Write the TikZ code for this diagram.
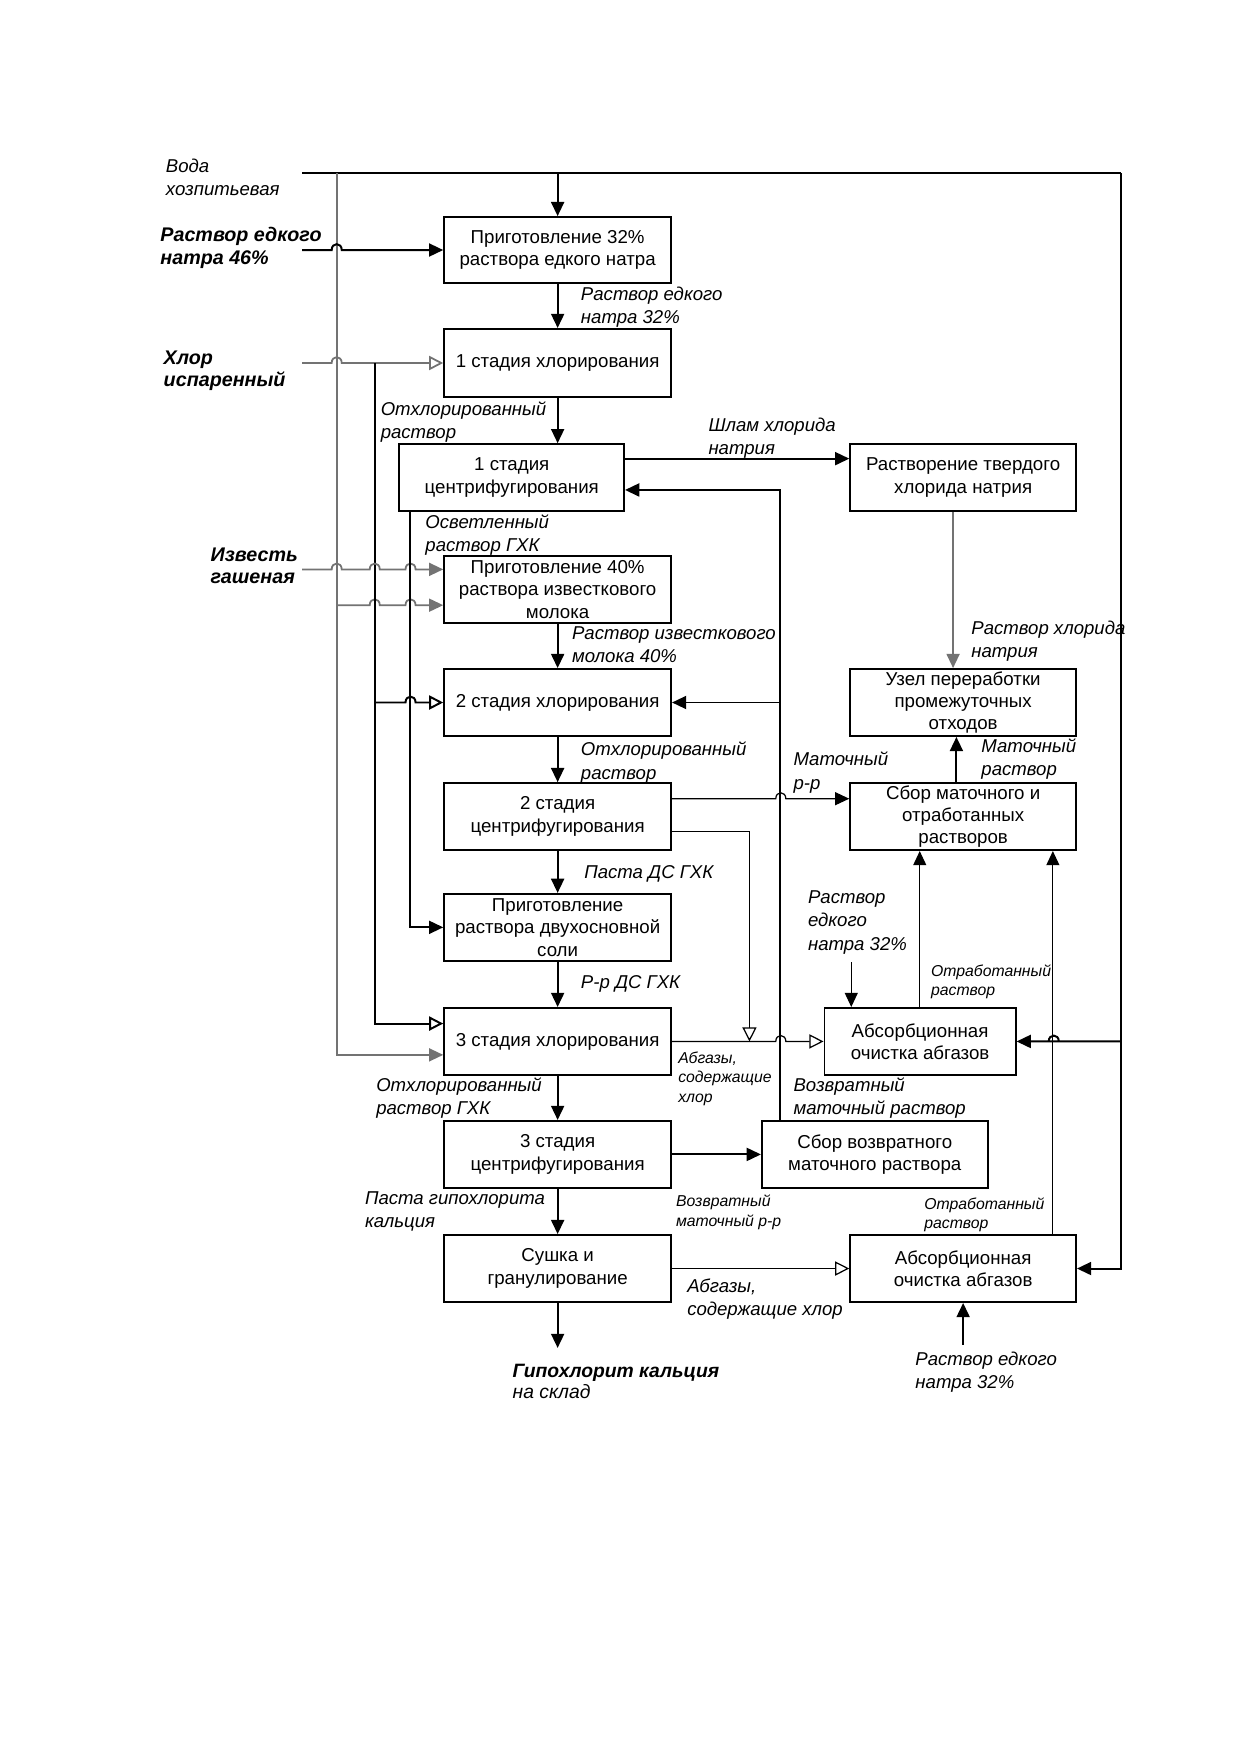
\documentclass[tikz,border=0pt]{standalone}
\usepackage{fontspec}
\setmainfont{Liberation Sans}
\usetikzlibrary{arrows.meta,calc}
\definecolor{lg}{gray}{0.45}
\newcommand\jp[2]{-- ({#1-4.5},#2) .. controls ({#1-4.5},{#2-7}) and ({#1+4.5},{#2-7}) .. ({#1+4.5},#2)}
\newcommand\pbox[6]{\node[box, minimum width={(#4-#2)*0.18936mm}, minimum height={(#5-#3)*0.18936mm}] (#1) at ({(#2+#4)/2},{(#3+#5)/2}) {#6};}
\tikzset{
 box/.style={draw, line width=0.85pt, inner sep=0pt, align=center, font=\fontsize{9}{10.8}\selectfont},
 lbl/.style={anchor=north west, inner sep=0pt, align=left, font=\fontsize{8.95}{11.2}\selectfont\itshape},
 blbl/.style={lbl, font=\fontsize{9.5}{10.7}\selectfont\bfseries\itshape},
 slbl/.style={lbl, font=\fontsize{7.6}{9.3}\selectfont\itshape},
 ln/.style={line width=0.95pt},
 tl/.style={line width=0.6pt},
 gl/.style={line width=0.85pt, draw=lg},
 fa/.style={-{Triangle[length=2.4mm,width=2.2mm]}},
 oa/.style={-{Triangle[open,length=2.4mm,width=2.4mm]}},
}
\begin{document}
\begin{tikzpicture}[x=0.18936mm, y=-0.18936mm]
\path[use as bounding box, fill=white] (0,0) rectangle (1109,1568);

% process boxes
\pbox{B1}{397}{194}{600}{253}{Приготовление 32\%\\раствора едкого натра}
\pbox{B2}{397}{294}{600}{355}{1 стадия хлорирования}
\pbox{B3}{357}{397}{558}{457}{1 стадия\\центрифугирования}
\pbox{B4}{397}{497}{600}{557}{Приготовление 40\%\\раствора известкового\\молока}
\pbox{B5}{397}{598}{600}{658}{2 стадия хлорирования}
\pbox{B6}{397}{700}{600}{760}{2 стадия\\центрифугирования}
\pbox{B7}{397}{799}{600}{859}{Приготовление\\раствора двухосновной\\соли}
\pbox{B8}{397}{901}{600}{961}{3 стадия хлорирования}
\pbox{B9}{397}{1002}{600}{1062}{3 стадия\\центрифугирования}
\pbox{B10}{397}{1104}{600}{1164}{Сушка и\\гранулирование}
\pbox{R1}{760}{397}{962}{457}{Растворение твердого\\хлорида натрия}
\pbox{R2}{760}{598}{962}{658}{Узел переработки\\промежуточных\\отходов}
\pbox{R3}{760}{700}{962}{760}{Сбор маточного и\\отработанных\\растворов}
\pbox{A1}{737}{901}{908}{961}{Абсорбционная\\очистка абгазов}
\pbox{SV}{681}{1002}{883}{1062}{Сбор возвратного\\маточного раствора}
\pbox{A2}{760}{1104}{962}{1164}{Абсорбционная\\очистка абгазов}

% junction / free-end coordinates
\coordinate (w0) at (270,155);
\coordinate (wr) at (1002,155);
\coordinate (vw0) at (301,155);
\coordinate (vw1) at (301,541);
\coordinate (n0) at (270,223.5);
\coordinate (c0) at (270,324.5);
\coordinate (i0) at (270,509);
\coordinate (vc0) at (335,324.5);
\coordinate (vc1) at (335,628);
\coordinate (vm1) at (698,628);
\coordinate (wa) at (1002,931);
\coordinate (ab) at (670,931);
\coordinate (prod) at (498.5,1205);
\coordinate (nA1) at (761,860);
\coordinate (nA2) at (861,1202);

% water
\draw[ln] (w0) -- (wr);
\draw[ln,fa] (wr) |- (A2.east);
\draw[ln,fa] (B1.north |- w0) -- (B1.north);
\draw[gl,fa] (vw0) |- ($(B8.west)+(0,12)$);
\draw[gl,fa] (vw1) \jp{335}{541} \jp{367}{541} -- ($(B4.west)+(0,14)$);
\draw[ln,fa] (wa) \jp{942}{931} -- (A1.east);

% inputs on the left
\draw[ln,fa] (n0) \jp{301}{223.5} -- (B1.west);
\draw[gl,oa] (c0) \jp{301}{324.5} -- (B2.west);
\draw[ln,oa] (vc0) |- ($(B8.west)+(0,-16)$);
\draw[ln,oa] (vc1) \jp{367}{628} -- (B5.west);
\draw[gl,fa] (i0) \jp{301}{509} \jp{335}{509} \jp{367}{509} -- ($(B4.west)+(0,-18)$);
\draw[ln,fa] ($(B3.south west)+(10,0)$) |- (B7.west);

% main chain
\draw[ln,fa] (B1.south) -- (B2.north);
\draw[ln,fa] (B2.south) -- (B2.south |- B3.north);
\draw[ln,fa] (B4.south) -- (B5.north);
\draw[ln,fa] (B5.south) -- (B6.north);
\draw[ln,fa] (B6.south) -- (B7.north);
\draw[ln,fa] (B7.south) -- (B8.north);
\draw[ln,fa] (B8.south) -- (B9.north);
\draw[ln,fa] (B9.south) -- (B10.north);
\draw[ln,fa] (B10.south) -- (prod);

% right side
\draw[ln,fa] ($(B3.east)+(0,-17)$) -- ($(R1.west)+(0,-17)$);
\draw[ln,fa] ($(SV.north west)+(17,0)$) |- ($(B3.east)+(0,11)$);
\draw[ln,fa] (vm1) -- (B5.east);
\draw[gl,fa] ($(R1.south)+(-9,0)$) -- ($(R2.north)+(-9,0)$);
\draw[ln,fa] ($(R3.north)+(-6,0)$) -- ($(R2.south)+(-6,0)$);
\draw[tl,fa] ($(B6.east)+(0,-16)$) \jp{698}{714} -- ($(R3.west)+(0,-16)$);
\draw[tl,oa] ($(B6.east)+(0,13)$) -| (ab);
\draw[tl,oa] (B8.east) \jp{698}{931} -- (A1.west);
\draw[tl,fa] (nA1) -- (nA1 |- A1.north);
\path ($(A1.north west)+(86,0)$) coordinate (a1t);
\draw[tl,fa] (a1t) -- (a1t |- R3.south);
\path ($(A2.north west)+(182,0)$) coordinate (a2t);
\draw[tl,fa] (a2t) -- (a2t |- R3.south);
\draw[ln,fa] (B9.east) -- (SV.west);
\draw[tl,oa] (B10.east) -- (A2.west);
\draw[ln,fa] (nA2) -- (A2.south);

% labels
\node[lbl] (Lv) at (148,142) {Вода\\хозпитьевая};
\node[blbl] (Ln46) at (143,203) {Раствор едкого\\натра 46\%};
\node[lbl] (Ln32) at (519,256) {Раствор едкого\\натра 32\%};
\node[blbl] (Lcl) at (146,313) {Хлор\\испаренный};
\node[lbl] (Lo1) at (340,359) {Отхлорированный\\раствор};
\node[lbl] (Lsh) at (633,373) {Шлам хлорида\\натрия};
\node[lbl] (Los) at (380,460) {Осветленный\\раствор ГХК};
\node[blbl] (Liz) at (188,489) {Известь\\гашеная};
\node[lbl] (Lim) at (511,560) {Раствор известкового\\молока 40\%};
\node[lbl] (Lnc) at (868,555) {Раствор хлорида\\натрия};
\node[lbl] (Lo2) at (519,663) {Отхлорированный\\раствор};
\node[lbl] (Lmp) at (709,672) {Маточный\\р-р};
\node[lbl] (Lmr) at (877,660) {Маточный\\раствор};
\node[lbl] (Lpd) at (522,773) {Паста ДС ГХК};
\node[lbl] (LnA1) at (722,796) {Раствор\\едкого\\натра 32\%};
\node[lbl] (Lrd) at (519,872) {Р-р ДС ГХК};
\node[slbl] (Lot1) at (832,862) {Отработанный\\раствор};
\node[slbl] (Lab1) at (606,940) {Абгазы,\\содержащие\\хлор};
\node[lbl] (Lo3) at (336,963) {Отхлорированный\\раствор ГХК};
\node[lbl] (Lvm) at (709,963) {Возвратный\\маточный раствор};
\node[lbl] (Lpg) at (326,1065) {Паста гипохлорита\\кальция};
\node[slbl] (Lvr) at (604,1068) {Возвратный\\маточный р-р};
\node[slbl] (Lot2) at (826,1070) {Отработанный\\раствор};
\node[lbl] (Lab2) at (614,1143) {Абгазы,\\содержащие хлор};
\node[lbl, font=\fontsize{9.3}{10.4}\selectfont\itshape] (Lgk) at (458,1219) {{\bfseries Гипохлорит кальция}\\на склад};
\node[lbl] (LnA2) at (818,1208) {Раствор едкого\\натра 32\%};
\end{tikzpicture}
\end{document}
